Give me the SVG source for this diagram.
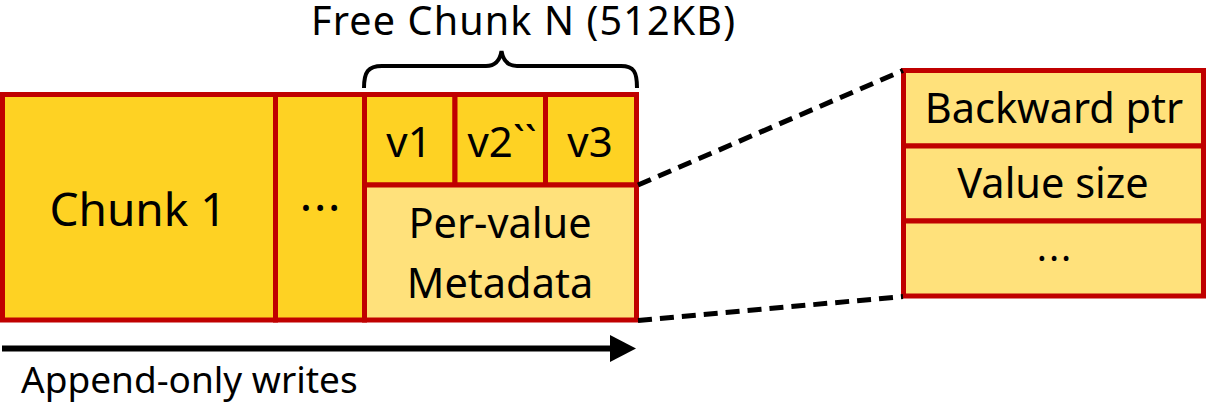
<svg xmlns="http://www.w3.org/2000/svg" width="1206" height="404" viewBox="0 0 1206 404">
  <defs>
    <style>
      .dark { fill: #FED223; stroke: #C00000; stroke-width: 5; }
      .light { fill: #FFE17B; stroke: #C00000; stroke-width: 5; }
      .lbl { font-family: "Noto Sans", "Open Sans", sans-serif; fill: #000; text-anchor: middle; }
      .dash { stroke: #000; stroke-width: 5; stroke-dasharray: 14 8; fill: none; }
    </style>
  </defs>
  <rect width="1206" height="404" fill="#fff"/>

  <!-- title and brace over the free chunk -->
  <g id="title">
    <text class="lbl" x="523" y="35" font-size="39.5" textLength="424" lengthAdjust="spacing">Free Chunk N (512KB)</text>
    <path d="M364,88 C364,72 368,66 382,66 L486,66 C496,66 500,60 501.5,51 C503,60 507,66 517,66 L621,66 C634,66 637,72 637,88" fill="none" stroke="#000" stroke-width="4"/>
  </g>

  <g id="chunk1">
    <rect class="dark" x="2.5" y="94.5" width="273" height="225.5"/>
    <text class="lbl" x="138" y="226" font-size="46">Chunk 1</text>
  </g>

  <g id="chunk-ellipsis">
    <rect class="dark" x="275.5" y="94.5" width="89" height="225.5"/>
    <text class="lbl" x="321" y="224" font-size="46" letter-spacing="1.8">···</text>
  </g>

  <g id="v1">
    <rect class="dark" x="364.5" y="94.5" width="90.5" height="90.5"/>
    <text class="lbl" x="409" y="157" font-size="42">v1</text>
  </g>
  <g id="v2">
    <rect class="dark" x="455" y="94.5" width="90.5" height="90.5"/>
    <text class="lbl" x="502" y="157" font-size="42">v2``</text>
  </g>
  <g id="v3">
    <rect class="dark" x="545.5" y="94.5" width="91" height="90.5"/>
    <text class="lbl" x="590" y="157" font-size="42">v3</text>
  </g>

  <g id="metadata">
    <rect class="light" x="364.5" y="185" width="272" height="135"/>
    <text class="lbl" x="500" y="238" font-size="41.5">Per-value</text>
    <text class="lbl" x="500" y="298" font-size="41.5">Metadata</text>
  </g>

  <!-- expanded metadata fields -->
  <g id="backward-ptr">
    <rect class="light" x="903.5" y="70.5" width="300" height="75.5"/>
    <text class="lbl" x="1054" y="123" font-size="41.5">Backward ptr</text>
  </g>
  <g id="value-size">
    <rect class="light" x="903.5" y="146" width="300" height="75"/>
    <text class="lbl" x="1053" y="198" font-size="41.5">Value size</text>
  </g>
  <g id="more-fields">
    <rect class="light" x="903.5" y="221" width="300" height="75"/>
    <text class="lbl" x="1055" y="272" font-size="38" letter-spacing="2">···</text>
  </g>

  <g id="connectors">
    <line class="dash" x1="638" y1="185" x2="903" y2="70.5"/>
    <line class="dash" x1="638" y1="320.5" x2="903" y2="296.5"/>
    <line x1="2" y1="348.5" x2="612" y2="348.5" stroke="#000" stroke-width="6"/>
    <polygon points="610,335 636,348.5 610,362" fill="#000"/>
  </g>

  <g id="append-label">
    <text x="21" y="393" font-family="Noto Sans, Open Sans, sans-serif" font-size="37">Append-only writes</text>
  </g>
</svg>
